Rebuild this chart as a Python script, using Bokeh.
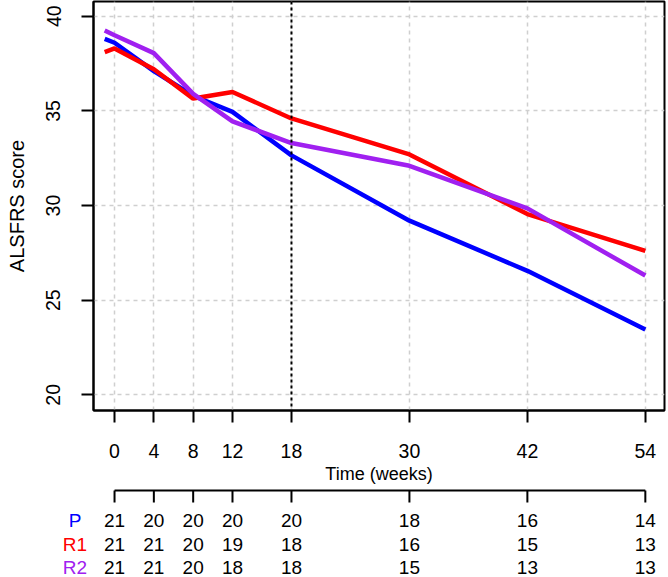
from bokeh.plotting import figure
from bokeh.layouts import column
from bokeh.models import Range1d, FixedTicker, Span, ColumnDataSource
from bokeh.core.properties import value
from bokeh.embed import file_html
from bokeh.resources import INLINE

# ---------------- data ----------------
weeks = [-1, 0, 4, 8, 12, 18, 30, 42, 54]
score_P = [38.8, 38.6, 37.1, 35.8, 34.95, 32.65, 29.2, 26.55, 23.45]
score_R1 = [38.1, 38.3, 37.2, 35.65, 36.0, 34.6, 32.7, 29.55, 27.6]
score_R2 = [39.25, 39.0, 38.05, 35.9, 34.45, 33.3, 32.1, 29.85, 26.3]

tick_weeks = [0, 4, 8, 12, 18, 30, 42, 54]
y_ticks = [20, 25, 30, 35, 40]
landmark_week = 18

groups = ["P", "R1", "R2"]
risk_P = [21, 20, 20, 20, 20, 18, 16, 14]
risk_R1 = [21, 21, 20, 19, 18, 16, 15, 13]
risk_R2 = [21, 21, 20, 18, 18, 15, 13, 13]

colors = {"P": "#0000FF", "R1": "#FF0000", "R2": "#A020F0"}
FONT = "Liberation Sans"

# ---------------- layout constants ----------------
W = 668
H1 = 488
H2 = 89
FRAME_L = 93
FRAME_R = 4
X0, X1 = -2.14, 55.95
Y0, Y1 = 19.17, 40.78

# ---------------- main figure ----------------
p = figure(width=W, height=H1, output_backend="svg", toolbar_location=None,
           x_range=Range1d(X0, X1), y_range=Range1d(Y0, Y1),
           min_border_left=FRAME_L, min_border_right=FRAME_R,
           min_border_top=1, min_border_bottom=H1 - 410, frame_align=False)
p.background_fill_color = "white"
p.border_fill_color = "white"
p.outline_line_color = "black"
p.outline_line_width = 2

p.xgrid.ticker = FixedTicker(ticks=tick_weeks)
p.ygrid.ticker = FixedTicker(ticks=y_ticks)
for g in (p.xgrid, p.ygrid):
    g.grid_line_color = "#CFCFCF"
    g.grid_line_dash = "4 4"
    g.grid_line_width = 1.5

p.add_layout(Span(location=landmark_week, dimension="height", line_color="black",
                  line_dash="3 3", line_width=2))

for name, ys in (("P", score_P), ("R1", score_R1), ("R2", score_R2)):
    p.line(weeks, ys, line_color=colors[name], line_width=4.5)

xa = p.xaxis[0]
xa.ticker = FixedTicker(ticks=tick_weeks)
xa.axis_label = "Time (weeks)"
ya = p.yaxis[0]
ya.ticker = FixedTicker(ticks=y_ticks)
ya.axis_label = "ALSFRS score"
ya.major_label_orientation = "vertical"
for ax in (xa, ya):
    ax.axis_line_color = "black"
    ax.axis_line_width = 2
    ax.major_tick_line_color = "black"
    ax.major_tick_line_width = 2
    ax.major_tick_out = 12
    ax.major_tick_in = 0
    ax.minor_tick_line_color = None
    ax.major_label_text_font = FONT
    ax.major_label_text_color = "black"
    ax.major_label_text_font_size = "19.5px"
    ax.axis_label_text_font = FONT
    ax.axis_label_text_font_style = "normal"
    ax.axis_label_text_color = "black"
xa.major_label_standoff = 21
xa.axis_label_standoff = 3
xa.axis_label_text_font_size = "18px"
ya.major_label_standoff = 21
ya.axis_label_standoff = 16
ya.axis_label_text_font_size = "20px"

# ---------------- number-at-risk table ----------------
scale = (W - FRAME_L - FRAME_R) / (X1 - X0)
X2_0 = X0 - FRAME_L / scale
X2_1 = X1 + FRAME_R / scale

q = figure(width=W, height=H2, output_backend="svg", toolbar_location=None,
           x_range=Range1d(X2_0, X2_1), y_range=Range1d(H2, 0),
           x_axis_type=None, y_axis_type=None, frame_align=False,
           min_border_left=0, min_border_right=0, min_border_top=0, min_border_bottom=0)
q.outline_line_color = None
q.xgrid.visible = False
q.ygrid.visible = False
q.background_fill_color = "white"
q.border_fill_color = "white"

line_y = 2
tick_len = 12
q.segment(x0=[tick_weeks[0]], x1=[tick_weeks[-1]], y0=[line_y], y1=[line_y],
          line_color="black", line_width=2)
q.segment(x0=tick_weeks, x1=tick_weeks, y0=[line_y] * len(tick_weeks),
          y1=[line_y + tick_len] * len(tick_weeks), line_color="black", line_width=2)

row_y = [31.5, 56, 79]
label_x = X0 + (74.5 - FRAME_L) / scale
for name, counts, ry in zip(groups, (risk_P, risk_R1, risk_R2), row_y):
    src = ColumnDataSource(dict(x=tick_weeks, y=[ry] * len(tick_weeks),
                                t=[str(c) for c in counts]))
    q.text(x="x", y="y", text="t", source=src, text_align="center",
           text_baseline="middle", text_font=value(FONT), text_font_size="19px",
           text_color="black")
    q.text(x=[label_x], y=[ry], text=[name], text_align="center",
           text_baseline="middle", text_font=value(FONT), text_font_size="19px",
           text_color=colors[name])

layout = column(p, q, spacing=0)
open("out.html", "w").write(file_html(layout, INLINE))
